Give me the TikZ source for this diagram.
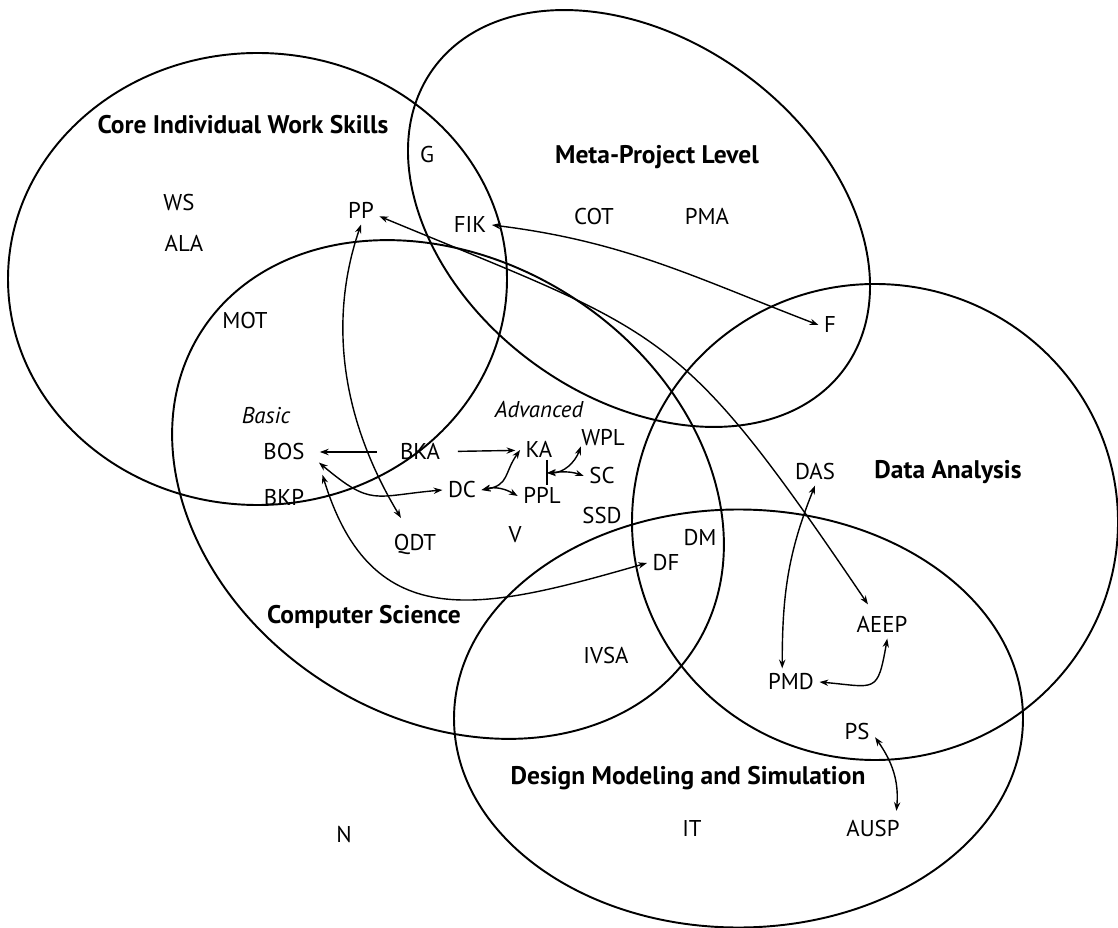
\documentclass[tikz,border=0pt]{standalone}
\usepackage{fontspec}
\setmainfont{PT Sans}
\usetikzlibrary{arrows.meta,positioning}

\begin{document}
\begin{tikzpicture}[
  x=0.02cm,
  y=0.02cm,
  area/.style={
    line width=1.1pt
  },
  item/.style={
    inner sep=3pt,
    font=\fontsize{13}{15}\selectfont,
    text height=9.1pt,
    text depth=0pt
  },
  level/.style={
    item,
    font=\fontsize{13}{15}\selectfont\itshape
  },
  title/.style={
    inner sep=0pt,
    font=\fontsize{14.5}{17}\selectfont\bfseries,
    text height=10.2pt,
    text depth=0pt
  },
  link/.style={
    line width=0.8pt,
    {Stealth[length=5pt,width=3.6pt]}-{Stealth[length=5pt,width=3.6pt]}
  },
  oneway/.style={
    line width=0.8pt,
    -{Stealth[length=5pt,width=3.6pt]}
  }]
  \useasboundingbox (0,0) rectangle (1118,-928);

  % the five areas
  \draw[area] (257.5,-279) ellipse [x radius=249.5, y radius=226];
  \draw[area,rotate around={-36.2:(639,-218.5)}] (639,-218.5) ellipse [x radius=254.5, y radius=179];
  \draw[area,rotate around={-32.7:(448,-489.5)}] (448,-489.5) ellipse [x radius=293, y radius=229];
  \draw[area] (875,-522) ellipse [x radius=243, y radius=238];
  \draw[area] (738.5,-718.5) ellipse [x radius=284.5, y radius=209];

  \node[title] (ciws) at (243,-125) {Core Individual Work Skills};
  \node[title] (mpl) at (657,-155) {Meta-Project Level};
  \node[title] (da) at (948,-470) {Data Analysis};
  \node[title] (cs) at (364,-615) {Computer Science};
  \node[title] (dms) at (688,-776) {Design Modeling and Simulation};

  \node[level] (basic) at (266,-416) {Basic};
  \node[level] (advanced) at (539,-410) {Advanced};

  \node[item] (g) at (427,-155) {G};
  \node[item] (ws) at (179,-203) {WS};
  \node[item] (ala) at (184,-244) {ALA};
  \node[item] (pp) at (361,-211) {PP};
  \node[item] (fik) at (470,-225) {FIK};
  \node[item] (cot) at (594,-217) {COT};
  \node[item] (pma) at (707,-217) {PMA};
  \node[item] (mot) at (245,-321) {MOT};
  \node[item] (f) at (830,-325) {F};
  \node[item] (bos) at (284,-452) {BOS};
  \node[item] (bka) at (420,-452) {BKA};
  \node[item] (ka) at (539,-450) {KA};
  \node[item] (wpl) at (603,-438) {WPL};
  \node[item] (sc) at (602,-476) {SC};
  \node[item] (bkp) at (284,-498) {BKP};
  \node[item] (dc) at (462,-490) {DC};
  \node[item] (ppl) at (542,-496) {PPL};
  \node[item] (ssd) at (602,-516) {SSD};
  \node[item] (v) at (515,-535) {V};
  \node[item] (qdt) at (415,-543) {QDT};
  \node[item] (dm) at (700,-538) {DM};
  \node[item] (df) at (666,-563) {DF};
  \node[item] (das) at (815,-472) {DAS};
  \node[item] (ivsa) at (606,-656) {IVSA};
  \node[item] (aeep) at (882,-625) {AEEP};
  \node[item] (pmd) at (791,-682) {PMD};
  \node[item] (ps) at (857,-732) {PS};
  \node[item] (it) at (692,-828) {IT};
  \node[item] (ausp) at (873,-828) {AUSP};
  \node[item] (n) at (344,-835) {N};

  \coordinate (bartop) at (547,-460);
  \coordinate (barbot) at (547,-485);
  \coordinate (barmid) at (547,-473);

  \draw[oneway,shorten <=10pt,shorten >=5.5pt] (bka) -- (bos);
  \draw[oneway,shorten <=7pt,shorten >=2.7pt] (bka) -- (ka);
  \draw[link] (pp.south) .. controls (335,-300) and (330,-400) .. ([xshift=-8pt,yshift=6.5pt]qdt.north);
  \draw[link] ([yshift=-3pt]pp.east) .. controls (668,-336) and (678,-324) .. ([xshift=-8pt,yshift=4pt]aeep.north);
  \draw[link] (fik.east) to[out=-7,in=159] (f.west);
  \draw[link] ([xshift=5pt,yshift=-6pt]bos.east) to[out=-40,in=185,looseness=1.4] (dc.west);
  \draw[link] ([xshift=7pt,yshift=-13pt]bos.east) to[out=-73,in=196,looseness=1.3] (df.west);
  \draw[link] (dc.east) to[out=10,in=235,looseness=1.3] (ka.west);
  \draw[link] (dc.east) to[out=15,in=150] (ppl.west);
  \draw[line width=0.8pt] (bartop) -- (barbot);
  \draw[link] (barmid) to[out=0,in=250] ([xshift=3pt,yshift=3pt]wpl.south west);
  \draw[link] (barmid) to[out=5,in=160] (sc.west);
  \draw[link] (das.south) to[out=248,in=90] ([xshift=-5pt]pmd.north);
  \draw[link] (pmd.east) to[out=-5,in=260,looseness=1.8] ([xshift=3pt]aeep.south);
  \draw[link] ([yshift=-3pt]ps.east) to[out=-55,in=85] ([xshift=-5pt,yshift=2pt]ausp.north east);
\end{tikzpicture}
\end{document}
